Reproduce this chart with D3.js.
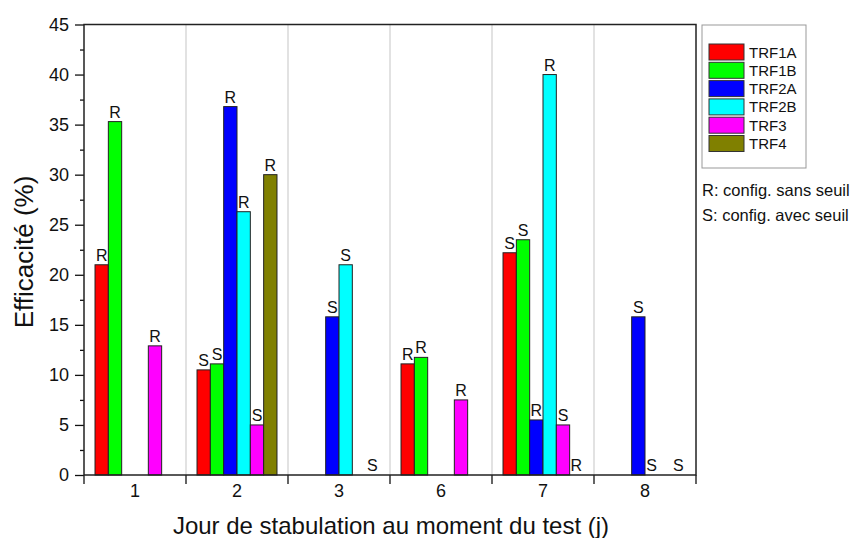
<!DOCTYPE html>
<html>
<head>
<meta charset="utf-8">
<script src="https://cdn.jsdelivr.net/npm/d3@7"></script>
<style>
  body { margin: 0; background: #fff; }
  svg { display: block; font-family: "Liberation Sans", Arial, sans-serif; }
</style>
</head>
<body>
<svg id="chart" width="860" height="538"></svg>
<script>
// ---- data ----
const categories = ["1", "2", "3", "6", "7", "8"];
const seriesNames = ["TRF1A", "TRF1B", "TRF2A", "TRF2B", "TRF3", "TRF4"];
const seriesColors = ["#ff0000", "#00ff00", "#0000ff", "#00ffff", "#ff00ff", "#808000"];
// values per category (null = no bar, no label)
const TRF1A = [21.0, 10.5, null, 11.1, 22.2, null];
const TRF1B = [35.3, 11.1, null, 11.75, 23.5, null];
const TRF2A = [null, 36.8, 15.8, null, 5.5, 15.8];
const TRF2B = [null, 26.3, 21.0, null, 40.0, 0];
const TRF3  = [12.9, 5.0, null, 7.5, 5.0, null];
const TRF4  = [null, 30.0, 0, null, 0, 0];
// R / S annotations
const TRF1A_lab = ["R", "S", null, "R", "S", null];
const TRF1B_lab = ["R", "S", null, "R", "S", null];
const TRF2A_lab = [null, "R", "S", null, "R", "S"];
const TRF2B_lab = [null, "R", "S", null, "R", "S"];
const TRF3_lab  = ["R", "S", null, "R", "S", null];
const TRF4_lab  = [null, "R", "S", null, "R", "S"];
const yTicks = [0, 5, 10, 15, 20, 25, 30, 35, 40, 45];
const yMinorTicks = [2.5, 7.5, 12.5, 17.5, 22.5, 27.5, 32.5, 37.5, 42.5];
const noteLines = ["R: config. sans seuil", "S: config. avec seuil"];

const seriesValues = [TRF1A, TRF1B, TRF2A, TRF2B, TRF3, TRF4];
const seriesLabels = [TRF1A_lab, TRF1B_lab, TRF2A_lab, TRF2B_lab, TRF3_lab, TRF4_lab];

const records = [];
categories.forEach((c, ci) => {
  seriesNames.forEach((s, si) => {
    const v = seriesValues[si][ci];
    if (v !== null) records.push({cat: c, series: s, value: v, label: seriesLabels[si][ci], color: seriesColors[si]});
  });
});

// ---- layout ----
const L = 84, R = 696, T = 24.5, B = 475;
const svg = d3.select("#chart");

const x0 = d3.scaleBand().domain(categories).range([L, R]).paddingInner(0).paddingOuter(0);
const bw = x0.bandwidth();
const x1 = d3.scaleBand().domain(seriesNames).range([bw * 0.108, bw * 0.892]).padding(0);
const y = d3.scaleLinear().domain([0, 45]).range([B, T]);

// group separators (grid)
const seps = categories.slice(1).map(c => x0(c));
svg.append("g").selectAll("line").data(seps).join("line")
  .attr("x1", d => d).attr("x2", d => d).attr("y1", T).attr("y2", B)
  .attr("stroke", "#cfcfcf").attr("stroke-width", 1.2);

// bars
svg.append("g").selectAll("rect").data(records.filter(d => d.value > 0)).join("rect")
  .attr("x", d => x0(d.cat) + x1(d.series))
  .attr("width", x1.bandwidth())
  .attr("y", d => y(d.value))
  .attr("height", d => y(0) - y(d.value))
  .attr("fill", d => d.color)
  .attr("stroke", "#222").attr("stroke-width", 1);

// R/S labels
svg.append("g").selectAll("text").data(records.filter(d => d.label)).join("text")
  .attr("x", d => x0(d.cat) + x1(d.series) + x1.bandwidth() / 2)
  .attr("y", d => y(d.value) - 4)
  .attr("text-anchor", "middle")
  .attr("font-size", 16)
  .attr("fill", "#111")
  .text(d => d.label);

// y axis
const yAxis = d3.axisLeft(y).tickValues(yTicks).tickSize(9).tickPadding(6).tickFormat(d3.format("d"));
const gy = svg.append("g").attr("transform", `translate(${L},0)`).call(yAxis);
gy.select(".domain").remove();
gy.selectAll("text").attr("font-size", 18).attr("fill", "#111").attr("font-family", "Liberation Sans, Arial, sans-serif");
gy.selectAll("line").attr("stroke", "#111").attr("stroke-width", 1.3);
const yMinor = d3.axisLeft(y).tickValues(yMinorTicks).tickSize(4).tickFormat("");
const gym = svg.append("g").attr("transform", `translate(${L},0)`).call(yMinor);
gym.select(".domain").remove();
gym.selectAll("line").attr("stroke", "#111").attr("stroke-width", 1.3);

// x axis: ticks at group boundaries, labels at centres
const boundaries = categories.map(c => x0(c)).concat([R]);
svg.append("g").selectAll("line").data(boundaries).join("line")
  .attr("x1", d => d).attr("x2", d => d).attr("y1", B).attr("y2", B + 9)
  .attr("stroke", "#111").attr("stroke-width", 1.3);
svg.append("g").selectAll("text").data(categories).join("text")
  .attr("x", d => x0(d) + bw / 2).attr("y", 497)
  .attr("text-anchor", "middle").attr("font-size", 18).attr("fill", "#111")
  .text(d => d);

// frame
svg.append("rect").attr("x", L).attr("y", T).attr("width", R - L).attr("height", B - T)
  .attr("fill", "none").attr("stroke", "#222").attr("stroke-width", 1.5);

// axis titles
svg.append("text").attr("x", 391).attr("y", 534).attr("text-anchor", "middle")
  .attr("font-size", 24).attr("fill", "#111").text("Jour de stabulation au moment du test (j)");
svg.append("text").attr("transform", "translate(33,252) rotate(-90)").attr("text-anchor", "middle")
  .attr("font-size", 26).attr("fill", "#111").text("Efficacité (%)");

// legend
const lg = svg.append("g");
lg.append("rect").attr("x", 702).attr("y", 25).attr("width", 104).attr("height", 143)
  .attr("fill", "#fff").attr("stroke", "#999").attr("stroke-width", 1);
const items = lg.selectAll("g.item").data(seriesNames).join("g").attr("class", "item")
  .attr("transform", (d, i) => `translate(709,${44 + i * 18.3})`);
items.append("rect").attr("width", 35).attr("height", 16)
  .attr("fill", (d, i) => seriesColors[i]).attr("stroke", "#333").attr("stroke-width", 1);
items.append("text").attr("x", 40).attr("y", 13.5).attr("font-size", 15).attr("fill", "#111").text(d => d);

svg.append("g").selectAll("text").data(noteLines).join("text")
  .attr("x", 702).attr("y", (d, i) => 196 + i * 25).attr("font-size", 16.5).attr("fill", "#111")
  .text(d => d);
</script>
</body>
</html>
